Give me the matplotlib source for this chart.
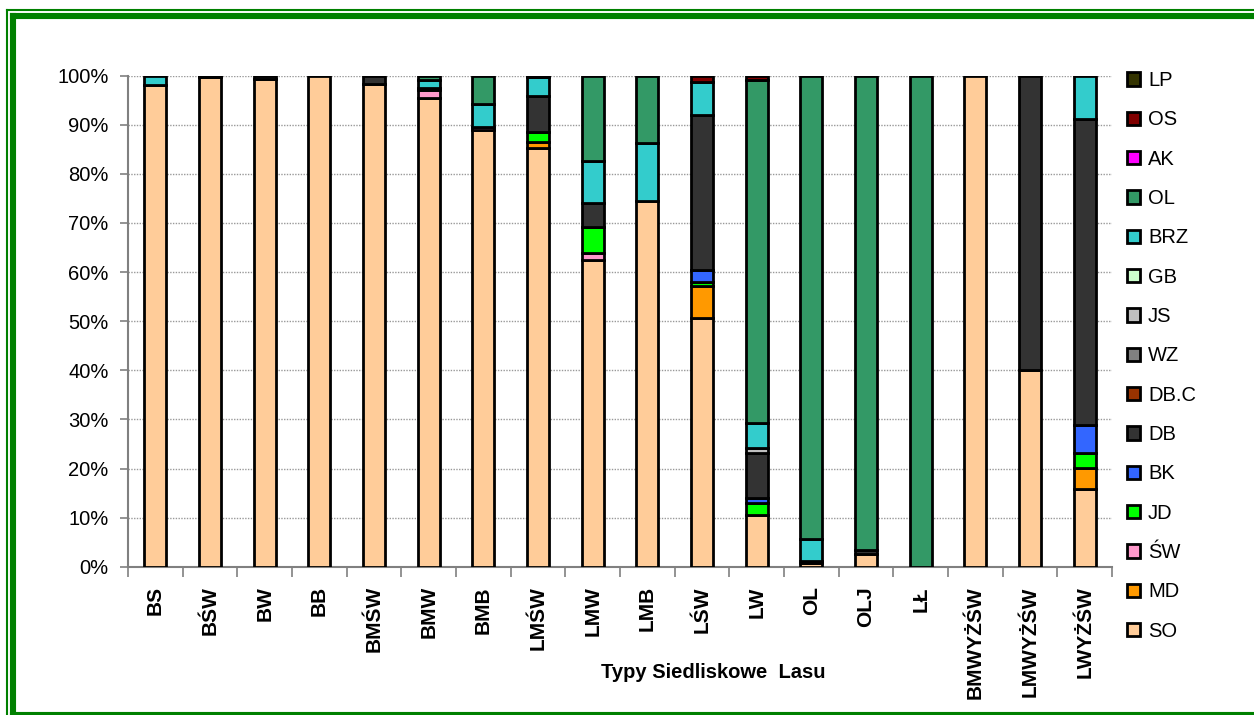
import numpy as np
import matplotlib
matplotlib.use("Agg")
import matplotlib.pyplot as plt
from matplotlib.lines import Line2D

plt.rcParams['font.family'] = ['Liberation Sans', 'DejaVu Sans']

categories = ['BS', 'BŚW', 'BW', 'BB', 'BMŚW', 'BMW', 'BMB', 'LMŚW', 'LMW', 'LMB',
              'LŚW', 'LW', 'OL', 'OLJ', 'LŁ', 'BMWYŻŚW', 'LMWYŻŚW', 'LWYŻŚW']

SO   = [98.2, 99.8, 99.3, 100, 98.3, 95.4, 88.9, 85.2, 62.5, 74.4, 50.6, 10.5, 0.8, 2.6, 0, 100, 40.1, 15.8]
MD   = [0, 0, 0, 0, 0, 0, 0, 1.2, 0, 0, 6.6, 0, 0, 0, 0, 0, 0, 4.4]
SW   = [0, 0, 0, 0, 0, 1.6, 0.7, 0, 1.3, 0, 0, 0, 0, 0, 0, 0, 0, 0]
JD   = [0, 0, 0, 0, 0, 0, 0, 2.1, 5.4, 0, 0.8, 2.4, 0, 0, 0, 0, 0, 2.9]
BK   = [0, 0, 0, 0, 0, 0, 0, 0, 0, 0, 2.4, 1.0, 0, 0, 0, 0, 0, 5.8]
DB   = [0, 0.2, 0.7, 0, 1.7, 0.4, 0, 7.4, 4.8, 0, 31.6, 9.2, 0.3, 0.8, 0, 0, 59.9, 62.3]
DBC  = [0] * 18
WZ   = [0] * 18
JS   = [0, 0, 0, 0, 0, 0, 0, 0, 0, 0, 0, 1.0, 0, 0, 0, 0, 0, 0]
GB   = [0] * 18
BRZ  = [1.8, 0, 0, 0, 0, 1.8, 4.6, 3.8, 8.6, 11.8, 6.7, 5.1, 4.5, 0, 0, 0, 0, 8.8]
OL   = [0, 0, 0, 0, 0, 0.8, 5.8, 0, 17.4, 13.8, 0, 69.9, 94.4, 96.6, 100, 0, 0, 0]
AK   = [0] * 18
OS   = [0, 0, 0, 0, 0, 0, 0, 0, 0, 0, 1.3, 0.9, 0, 0, 0, 0, 0, 0]
LP   = [0, 0, 0, 0, 0, 0, 0, 0.3, 0, 0, 0, 0, 0, 0, 0, 0, 0, 0]

series_names = ['SO', 'MD', 'ŚW', 'JD', 'BK', 'DB', 'DB.C', 'WZ', 'JS', 'GB', 'BRZ', 'OL', 'AK', 'OS', 'LP']
series_values = [SO, MD, SW, JD, BK, DB, DBC, WZ, JS, GB, BRZ, OL, AK, OS, LP]
series_colors = ['#FFCC99', '#FF9900', '#FF99CC', '#00FF00', '#3366FF', '#333333', '#993300',
                 '#808080', '#C0C0C0', '#CCFFCC', '#33CCCC', '#339966', '#FF00FF', '#800000', '#333300']

W, H = 1254, 715
fig = plt.figure(figsize=(W / 100, H / 100), dpi=100)
ax = fig.add_axes([128 / W, 1 - 566.7 / H, (1112 - 128) / W, (566.7 - 75.7) / H])

x = np.arange(len(categories))
bottom = np.zeros(len(categories))
handles = []
for name, vals, col in zip(series_names, series_values, series_colors):
    v = np.array(vals, dtype=float) / 100.0
    lw = np.where(v > 0, 2.0, 0.0)
    ax.bar(x, v, width=0.40, bottom=bottom, color=col, edgecolor='black',
           linewidth=lw, zorder=3, label=name)
    bottom += v
    handles.append(plt.Rectangle((0, 0), 1, 1, facecolor=col, edgecolor='black', linewidth=2.0))

ax.set_xlim(-0.5, len(categories) - 0.5)
ax.set_ylim(0, 1)
ax.set_yticks(np.arange(0, 1.01, 0.1))
ax.set_yticklabels([f'{int(round(t * 100))}%' for t in np.arange(0, 1.01, 0.1)], fontsize=14.5)
ax.yaxis.grid(True, linestyle=(0, (1, 1)), color='#999999', linewidth=1.0, zorder=0)
ax.set_axisbelow(True)

ax.set_xticks(x)
ax.set_xticklabels(categories, rotation=90, fontsize=15, fontweight='bold', va='top')
ax.set_xticks(np.arange(-0.5, len(categories), 1), minor=True)
ax.tick_params(axis='x', which='major', length=0, pad=14)
ax.tick_params(axis='x', which='minor', length=7, width=1.2, color='#808080', direction='out')
ax.tick_params(axis='y', which='major', length=6, width=1.2, color='#808080', pad=8)

for s in ['top', 'right']:
    ax.spines[s].set_visible(False)
for s in ['left', 'bottom']:
    ax.spines[s].set_color('#808080')
    ax.spines[s].set_linewidth(1.5)

fig.text(713 / W, 1 - 673 / H, 'Typy Siedliskowe  Lasu', ha='center', va='center',
         fontsize=14.5, fontweight='bold')

leg = fig.legend(handles[::-1], series_names[::-1], loc='upper left',
                 bbox_to_anchor=(1127 / W, 1 - 71 / H), frameon=False, fontsize=14.5,
                 handlelength=0.65, handleheight=0.65, handletextpad=0.4,
                 labelspacing=1.01, borderpad=0, borderaxespad=0)

# green double frame
green = '#008000'
fig.add_artist(Line2D([7 / W, 7 / W], [1 - 10 / H, 0], color=green, linewidth=1.5,
                      transform=fig.transFigure))
fig.add_artist(Line2D([7 / W, 1], [1 - 10 / H, 1 - 10 / H], color=green, linewidth=1.5,
                      transform=fig.transFigure))
fig.add_artist(Line2D([13 / W, 13 / W], [1 - 15.7 / H, 0], color=green, linewidth=4.4,
                      transform=fig.transFigure))
fig.add_artist(Line2D([13 / W, 1], [1 - 15.7 / H, 1 - 15.7 / H], color=green, linewidth=4.4,
                      transform=fig.transFigure))
fig.add_artist(Line2D([13 / W, 1], [1 - 714.5 / H, 1 - 714.5 / H], color=green, linewidth=4.4,
                      transform=fig.transFigure))

fig.savefig('out.png', dpi=100)
